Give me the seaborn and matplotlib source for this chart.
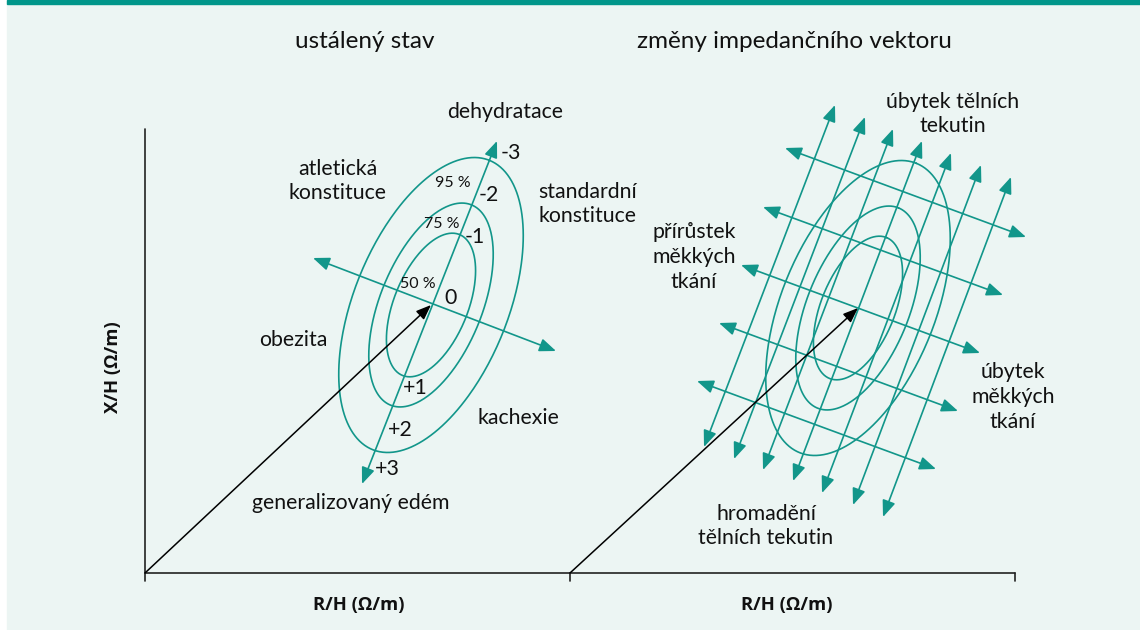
import numpy as np
import pandas as pd
import seaborn as sns
import matplotlib.pyplot as plt
from matplotlib.patches import FancyArrowPatch, Rectangle

TEAL = '#12968a'
BG = '#ecf5f3'

# tolerance ellipses (same shape in both panels), sizes in px
levels = ['50 %', '75 %', '95 %']
semi_major = [76, 108, 156]
semi_minor = [37, 51, 77]
tilt_deg = 22

centres = {'left': (431, 305), 'right': (858, 308)}
origins = {'left': (145, 573), 'right': (570, 573)}

# teal double arrows of the left panel (start, end)
left_arrows = [((362, 484), (497, 141)), ((313, 258), (556, 351))]

# right panel: 7 "fluid" arrows and 5 "soft tissue" arrows
fluid_top = [(835, 105), (865, 117), (893, 129), (922, 141), (951, 153), (981, 165), (1011, 177)]
fluid_bottom = [(704, 447), (734, 459), (763, 470), (793, 481), (822, 493), (853, 505), (883, 517)]
tissue_left = [(785, 148), (763, 207), (741, 265), (719, 323), (697, 381)]
tissue_right = [(1026, 237), (1003, 295), (980, 353), (958, 411), (936, 469)]

titles = ['ustálený stav', 'změny impedančního vektoru']
title_pos = [(365, 41), (794, 41)]

labels = ['dehydratace', 'atletická\nkonstituce', 'standardní\nkonstituce', 'obezita',
          'kachexie', 'generalizovaný edém',
          'úbytek tělních\ntekutin', 'přírůstek\nměkkých\ntkání',
          'úbytek\nměkkých\ntkání', 'hromadění\ntělních tekutin']
label_pos = [(505, 112), (338, 181), (588, 204), (293, 340), (518, 418), (351, 503),
             (953, 114), (694, 257), (1013, 397), (766, 526)]

scale_marks = ['-3', '-2', '-1', '0', '+1', '+2', '+3']
scale_pos = [(511, 153), (489, 195), (475, 237), (451, 298), (415, 388), (400, 430), (387, 469)]
level_pos = [(418, 284), (442, 224), (453, 183)]

sns.set_theme(style='white')
plt.rcParams['font.family'] = ['Lato', 'DejaVu Sans']

fig = plt.figure(figsize=(11.4, 6.3), dpi=100, facecolor='white')
ax = fig.add_axes([0, 0, 1, 1])
ax.add_patch(Rectangle((7, 0), 1133, 630, color=BG, zorder=0))
ax.add_patch(Rectangle((7, 0), 1133, 3.5, color='#00968a', zorder=1))

# ellipses
th = np.radians(tilt_deg)
u = np.array([np.sin(th), -np.cos(th)])
v = np.array([np.cos(th), np.sin(th)])
t = np.linspace(0, 2 * np.pi, 300)
rows = []
for panel, (cx, cy) in centres.items():
    for lev, a, b in zip(levels, semi_major, semi_minor):
        px = cx + a * np.cos(t) * u[0] + b * np.sin(t) * v[0]
        py = cy + a * np.cos(t) * u[1] + b * np.sin(t) * v[1]
        rows.append(pd.DataFrame({'x': px, 'y': py, 'ring': panel + lev}))
df = pd.concat(rows, ignore_index=True)
sns.lineplot(data=df, x='x', y='y', units='ring', estimator=None, sort=False,
             color=TEAL, lw=1.2, legend=False, ax=ax)


def double_arrow(p0, p1):
    ax.add_patch(FancyArrowPatch(p0, p1, arrowstyle='<|-|>,head_length=10,head_width=4',
                                 mutation_scale=1, color=TEAL, lw=1.2,
                                 shrinkA=0, shrinkB=0, zorder=3))


for p0, p1 in left_arrows:
    double_arrow(p0, p1)
for p0, p1 in zip(fluid_bottom, fluid_top):
    double_arrow(p0, p1)
for p0, p1 in zip(tissue_left, tissue_right):
    double_arrow(p0, p1)

# black impedance vectors
for panel in ['left', 'right']:
    ax.add_patch(FancyArrowPatch(origins[panel], centres[panel],
                                 arrowstyle='-|>,head_length=9,head_width=3.5',
                                 mutation_scale=1, color='black', lw=1.1,
                                 shrinkA=0, shrinkB=0, zorder=4))

# axes frame
ax.plot([145, 145], [129, 581], color='#222222', lw=1.2)
ax.plot([145, 1015], [573, 573], color='#222222', lw=1.2)
ax.plot([570, 570], [573, 581], color='#222222', lw=1.2)
ax.plot([1015, 1015], [573, 581], color='#222222', lw=1.2)

for txt, (x, y) in zip(titles, title_pos):
    ax.text(x, y, txt, ha='center', va='center', fontsize=17.5, color='#111111')
for txt, (x, y) in zip(labels, label_pos):
    ax.text(x, y, txt, ha='center', va='center', fontsize=15.3, color='#111111', linespacing=1.3)
for txt, (x, y) in zip(scale_marks, scale_pos):
    ax.text(x, y, txt, ha='center', va='center', fontsize=15.3, color='#111111')
for txt, (x, y) in zip(levels, level_pos):
    ax.text(x, y, txt, ha='center', va='center', fontsize=11.5, color='#111111')

bold = dict(ha='center', va='center', fontsize=13.3, fontweight='bold',
            family=['Open Sans', 'DejaVu Sans'], color='#111111')
ax.text(113, 367, 'X/H (Ω/m)', rotation=90, **bold)
ax.text(359, 605, 'R/H (Ω/m)', **bold)
ax.text(787, 605, 'R/H (Ω/m)', **bold)

ax.set_xlim(0, 1140)
ax.set_ylim(630, 0)
ax.axis('off')
fig.savefig('out.png', dpi=100, facecolor='white')
